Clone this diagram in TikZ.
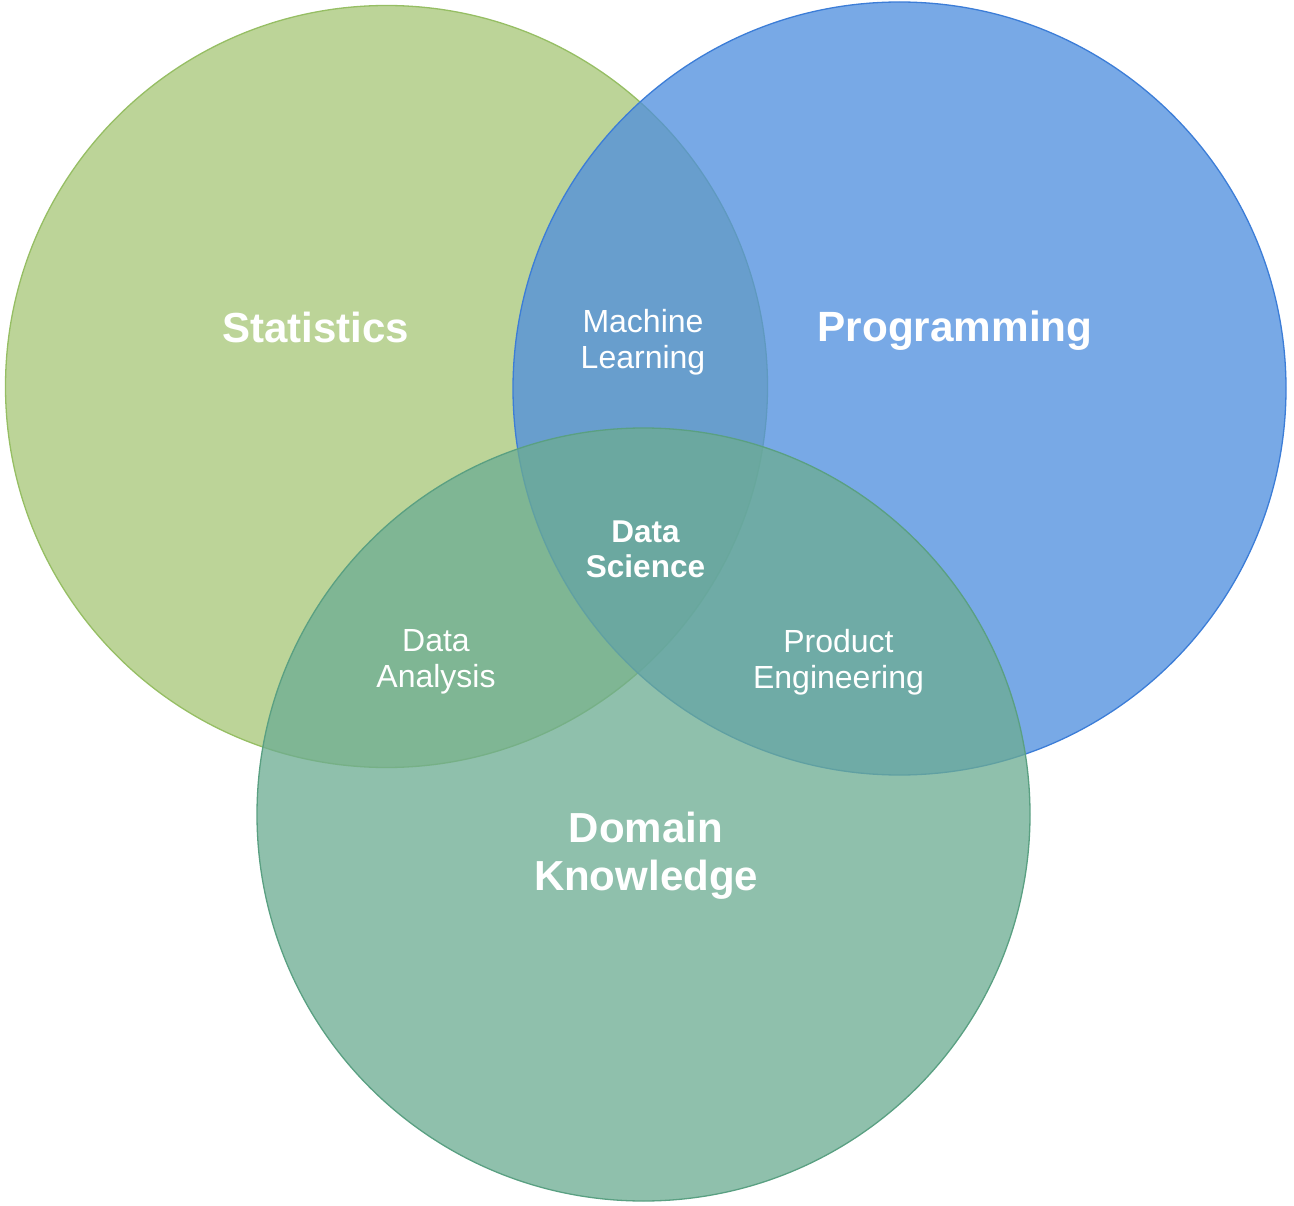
\documentclass[tikz,border=0pt]{standalone}
\usepackage{fontspec}
\setmainfont{Liberation Sans}
\definecolor{statfill}{RGB}{167,199,120}
\definecolor{statline}{RGB}{150,190,100}
\definecolor{progfill}{RGB}{78,142,222}
\definecolor{progline}{RGB}{60,125,215}
\definecolor{domfill}{RGB}{108,172,146}
\definecolor{domline}{RGB}{90,160,130}
\begin{document}
\begin{tikzpicture}[x=1pt,y=-1pt,
  setcircle/.style={circle,fill opacity=0.76,line width=1.3pt,inner sep=0pt},
  biglabel/.style={text=white,font=\fontsize{42}{48}\selectfont\bfseries,align=center},
  smalllabel/.style={text=white,font=\fontsize{32}{35.5}\selectfont,align=center},
  centrelabel/.style={text=white,font=\fontsize{31.5}{35}\selectfont\bfseries,align=center}]
\useasboundingbox (0,0) rectangle (1294,1206);
\node[setcircle,fill=statfill,draw=statline,minimum size=762pt] (stat) at (386.5,386.5) {};
\node[setcircle,fill=progfill,draw=progline,minimum size=773pt] (prog) at (899.5,388.5) {};
\node[setcircle,fill=domfill,draw=domline,minimum size=773pt] (dom) at (643.5,814.5) {};
\node[biglabel] (statlbl) at (315.5,327) {Statistics};
\node[biglabel,font=\fontsize{42.3}{48}\selectfont\bfseries] (proglbl) at (955,331) {Programming};
\node[biglabel] (domlbl) at (646,856) {Domain\\Knowledge};
\node[smalllabel] (ml) at (643,342) {Machine\\Learning};
\node[smalllabel] (da) at (436,662) {Data\\Analysis};
\node[smalllabel] (pe) at (838.5,662) {Product\\Engineering};
\node[centrelabel] (ds) at (645.5,549) {Data\\Science};
\end{tikzpicture}
\end{document}
